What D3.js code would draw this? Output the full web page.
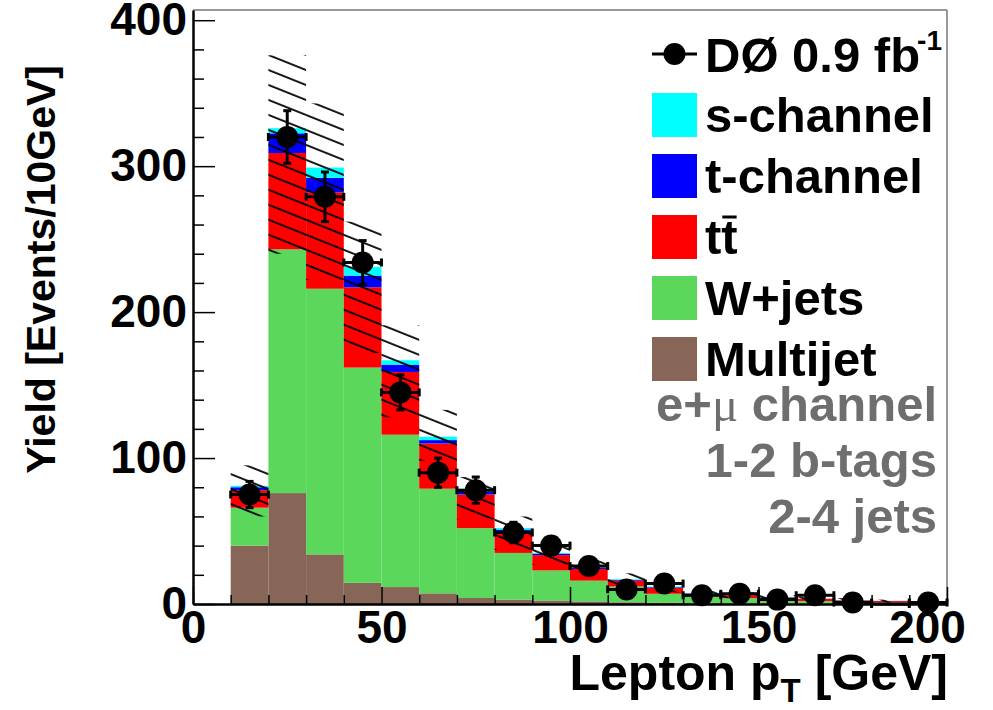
<!DOCTYPE html>
<html><head><meta charset="utf-8">
<script src="https://cdn.jsdelivr.net/npm/d3@7"></script>
<style>
body{margin:0;background:#fff}
text{font-family:"Liberation Sans",Arial,Helvetica,sans-serif;font-weight:bold}
</style>
</head><body>
<svg id="c" width="993" height="710"></svg>
<script>
// ---- data ----
const binLow   = [10,20,30,40,50,60,70,80,90,100,110,120,130,140,150,160,170,180,190];
const binWidth = 10;
const multijet = [40,76,34,14.5,11.6,7.3,4.1,3,2.4,1.8,1.2,0.9,0.6,0.5,0.4,0.3,0.2,0.2,0.1];
const wjets    = [26,167,182,147.5,104.4,71.7,47.9,32,20.6,14.2,10.8,6.1,4.4,3.5,2.6,1.7,1.3,0.8,0.6];
const ttbar    = [12,66,66,55,43,31,23,15,10.5,8,4,4,2,2,1.5,1.5,1,1,0.8];
const tchan    = [2,13.5,10,8,5,2.3,2,1,1,1,0.5,0.5,0.3,0.2,0.2,0.1,0.1,0.1,0.1];
const schan    = [1,3.5,7,6,3,2.3,2,1,0.5,1,0.5,0.5,0.3,0.2,0.2,0.1,0.1,0.1,0.1];
const bandHi   = [95,376,343,262,191,133,87,60,42,30,21,14,9,8,6,5,4,3,2.5];
const bandLo   = [60,240,222,172,128,98,58,37,27,20,12,8,5,4,3,2,1.5,1,1];
const dataVal  = [75,320,279,234,145,90,78,49,40,26,10,14,6,7,3,6,1,0,1];
const dataErr  = [9,18,17,15,12,10,9,7,6,5,3,4,2.5,2.6,1.7,2.5,1,0,1];
const seriesKeys   = ["multijet","wjets","ttbar","tchan","schan"];
const seriesColors = ["#876557","#5bd75b","#ff0000","#0000ff","#00ffff"];
const legendLabels = ["s-channel","t-channel","tt","W+jets","Multijet"];
const legendKeys   = ["schan","tchan","ttbar","wjets","multijet"];
const infoLines    = ["e+μ channel","1-2 b-tags","2-4 jets"];
const xTicksMajor  = [0,50,100,150,200];
const yTicksMajor  = [0,100,200,300,400];

// ---- table ----
const table = binLow.map((lo,i)=>({lo, multijet:multijet[i], wjets:wjets[i], ttbar:ttbar[i], tchan:tchan[i], schan:schan[i]}));
const colorOf = d3.scaleOrdinal().domain(seriesKeys).range(seriesColors);

const svg = d3.select('#c');
const x = d3.scaleLinear().domain([0,200]).range([193,947]);
const y = d3.scaleLinear().domain([0,407]).range([604,10]);

// hatch pattern
const defs = svg.append('defs');
const pat = defs.append('pattern').attr('id','hatch').attr('patternUnits','userSpaceOnUse')
  .attr('width',20).attr('height',13.9).attr('patternTransform','rotate(21.8)');
pat.append('line').attr('x1',0).attr('x2',20).attr('y1',7).attr('y2',7)
  .attr('stroke','#000').attr('stroke-width',1.8);

// stacked histogram
const stacked = d3.stack().keys(seriesKeys)(table);
svg.append('g').selectAll('g').data(stacked).join('g')
  .attr('fill',d=>colorOf(d.key))
  .selectAll('rect').data(d=>d).join('rect')
  .attr('x',d=>x(d.data.lo)).attr('width',d=>x(d.data.lo+binWidth)-x(d.data.lo))
  .attr('y',d=>y(d[1])).attr('height',d=>Math.max(0,y(d[0])-y(d[1])));

// uncertainty band
svg.append('g').selectAll('rect').data(binLow).join('rect')
  .attr('x',d=>x(d)).attr('width',d=>x(d+binWidth)-x(d))
  .attr('y',(d,i)=>y(bandHi[i])).attr('height',(d,i)=>y(bandLo[i])-y(bandHi[i]))
  .attr('fill','url(#hatch)');

// frame
svg.append('line').attr('x1',x(0)).attr('x2',x(200)).attr('y1',y.range()[1]).attr('y2',y.range()[1]).attr('stroke','#777').attr('stroke-width',1.5);
svg.append('line').attr('x1',x(200)).attr('x2',x(200)).attr('y1',y.range()[1]).attr('y2',y(0)).attr('stroke','#777').attr('stroke-width',1.5);

// axes
const yMinor = d3.range(20,407,20).filter(v=>v%100!==0);
svg.append('g').attr('transform',`translate(${x(0)},0)`)
  .call(d3.axisLeft(y).tickValues(yMinor).tickSizeInner(-11).tickSizeOuter(0).tickFormat(''))
  .call(g=>{g.select('.domain').remove(); g.selectAll('line').attr('stroke','#000').attr('stroke-width',1.5);});
const yAx = svg.append('g').attr('transform',`translate(${x(0)},0)`)
  .call(d3.axisLeft(y).tickValues(yTicksMajor).tickSizeInner(-22).tickSizeOuter(0).tickPadding(6).tickFormat(d3.format('d')));
yAx.select('.domain').attr('stroke','#000').attr('stroke-width',2.5);
yAx.selectAll('line').attr('stroke','#000').attr('stroke-width',1.5);
yAx.selectAll('text').attr('font-size',46).attr('font-family','"Liberation Sans",Arial,sans-serif').attr('font-weight','bold').attr('fill','#000');

const xMinor = d3.range(10,200,10).filter(v=>v%50!==0);
svg.append('g').attr('transform',`translate(0,${y(0)})`)
  .call(d3.axisBottom(x).tickValues(xMinor).tickSizeInner(-9).tickSizeOuter(0).tickFormat(''))
  .call(g=>{g.select('.domain').remove(); g.selectAll('line').attr('stroke','#000').attr('stroke-width',1.5);});
const xAx = svg.append('g').attr('transform',`translate(0,${y(0)})`)
  .call(d3.axisBottom(x).tickValues(xTicksMajor).tickSizeInner(-17).tickSizeOuter(0).tickPadding(6).tickFormat(d3.format('d')));
xAx.select('.domain').attr('stroke','#000').attr('stroke-width',2.5);
xAx.selectAll('line').attr('stroke','#000').attr('stroke-width',1.5);
xAx.selectAll('text').attr('font-size',46).attr('font-family','"Liberation Sans",Arial,sans-serif').attr('font-weight','bold').attr('fill','#000').attr('dy','0.72em');
// last label pulled inside the window, as in the reference
xAx.selectAll('.tick').filter(d=>d===200).select('text').attr('dx',-20);

// data points
const pts = binLow.map((lo,i)=>({c:lo+binWidth/2, lo, v:dataVal[i], e:dataErr[i]}));
const dg = svg.append('g').attr('stroke','#000').attr('stroke-width',3);
pts.forEach(p=>{
  const g = dg.append('g');
  g.append('line').attr('x1',x(p.lo)).attr('x2',x(p.lo+binWidth)).attr('y1',y(p.v)).attr('y2',y(p.v));
  g.append('line').attr('x1',x(p.lo)).attr('x2',x(p.lo)).attr('y1',y(p.v)-4).attr('y2',y(p.v)+4);
  g.append('line').attr('x1',x(p.lo+binWidth)).attr('x2',x(p.lo+binWidth)).attr('y1',y(p.v)-4).attr('y2',y(p.v)+4);
  if(p.v>0){
    g.append('line').attr('x1',x(p.c)).attr('x2',x(p.c)).attr('y1',y(p.v+p.e)).attr('y2',y(p.v-p.e));
    g.append('line').attr('x1',x(p.c)-4).attr('x2',x(p.c)+4).attr('y1',y(p.v+p.e)).attr('y2',y(p.v+p.e));
    g.append('line').attr('x1',x(p.c)-4).attr('x2',x(p.c)+4).attr('y1',y(p.v-p.e)).attr('y2',y(p.v-p.e));
    g.append('circle').attr('cx',x(p.c)).attr('cy',y(p.v)).attr('r',11).attr('fill','#000').attr('stroke','none');
  }
});

// legend
const lg = svg.append('g');
lg.append('line').attr('x1',652).attr('x2',697).attr('y1',54).attr('y2',54).attr('stroke','#000').attr('stroke-width',3);
lg.append('circle').attr('cx',674.5).attr('cy',54).attr('r',11).attr('fill','#000');
const dt = lg.append('text').attr('x',705).attr('y',72).attr('font-size',49).attr('fill','#000');
dt.append('tspan').text('DØ 0.9 fb');
dt.append('tspan').attr('font-size',28).attr('dy',-22).attr('dx',-3).text('-1');

legendKeys.forEach((k,i)=>{
  const top = 93 + i*61;
  lg.append('rect').attr('x',652).attr('y',top).attr('width',45).attr('height',44).attr('fill',colorOf(k));
  const t = lg.append('text').attr('x',705).attr('y',top+39).attr('font-size',49).attr('fill','#000').text(legendLabels[i]);
  if(k==='ttbar'){
    const n = t.node();
    const s = n.getStartPositionOfChar(1).x, e = n.getEndPositionOfChar(1).x;
    lg.append('line').attr('x1',s+1).attr('x2',e-1).attr('y1',top+2).attr('y2',top+2).attr('stroke','#000').attr('stroke-width',3);
  }
});

// info text
infoLines.forEach((s,i)=>{
  const t = svg.append('text').attr('x',937).attr('y',421+i*56).attr('text-anchor','end').attr('font-size',49).attr('fill','#6e6e6e');
  if(s.includes('μ')){
    const parts = s.split('μ');
    t.append('tspan').text(parts[0]);
    t.append('tspan').attr('font-family','"Liberation Serif","DejaVu Serif",serif').attr('font-weight','normal').text('μ');
    t.append('tspan').text(parts[1]);
  } else t.text(s);
});

// axis titles
const xt = svg.append('text').attr('x',948).attr('y',690).attr('text-anchor','end').attr('font-size',50).attr('fill','#000');
xt.append('tspan').text('Lepton p');
xt.append('tspan').attr('font-size',33).attr('dy',12).text('T');
xt.append('tspan').attr('dy',-12).text(' [GeV]');

svg.append('text').attr('transform','translate(55,65) rotate(-90)').attr('text-anchor','end')
  .attr('font-size',41).attr('fill','#000').text('Yield [Events/10GeV]');
</script>
</body></html>
